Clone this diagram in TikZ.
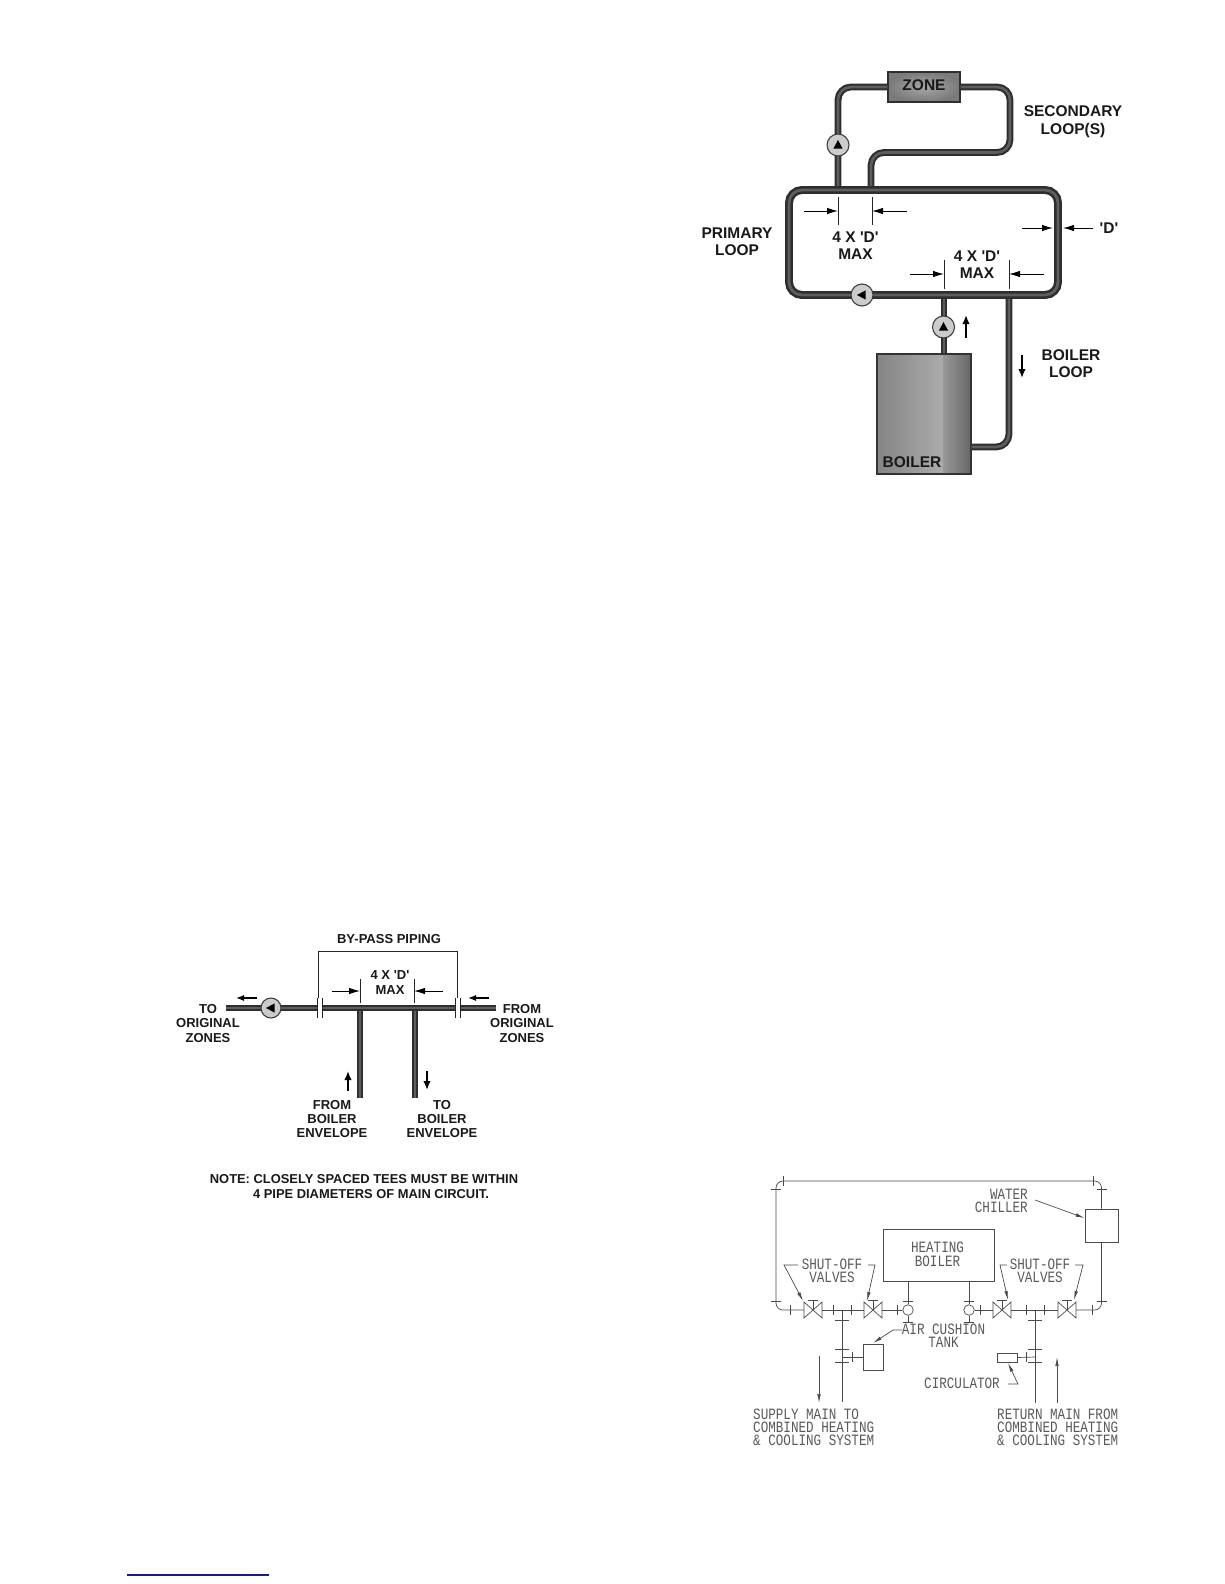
\documentclass[tikz,border=0pt]{standalone}
\usepackage{fontspec}
\usepackage{graphicx}
\setmainfont{Liberation Sans}
\newfontfamily\cadfont{Liberation Mono}
\usetikzlibrary{arrows.meta,calc}
\definecolor{pipeD}{HTML}{2E2E2E}
\definecolor{pipeL}{HTML}{5E5E5E}
\definecolor{cadc}{HTML}{4A4A4A}
\definecolor{cadt}{HTML}{5A5A5A}
\definecolor{rulec}{HTML}{1A1A8C}
\newcommand{\cadlines}[2][c]{\scalebox{1}[1.25]{\begin{tabular}[c]{@{}#1@{}}#2\end{tabular}}}
\newcommand{\Dq}{\textquotesingle D\textquotesingle}
\tikzset{
  pipe/.style={draw=pipeD,line width=2.6,double=pipeL,double distance=2.8},
  thinpipe/.style={draw=pipeD,line width=2.1,double=pipeL,double distance=2.6},
  lab/.style={font=\bfseries\fontsize{15.5bp}{17bp}\selectfont,align=center,inner sep=0pt,text=black!90},
  labs/.style={font=\bfseries\fontsize{13bp}{14.4bp}\selectfont,align=center,inner sep=0pt,text=black!90},
  thinl/.style={draw=black!85,line width=0.9},
  dimarr/.style={draw=black,line width=1,-{Latex[length=11bp,width=6.5bp]}},
  flow/.style={draw=black,line width=1.7,-{Latex[length=9bp,width=7.5bp]}},
  flowh/.style={draw=black,line width=1.2,-{Latex[length=8bp,width=6bp]}},
  pumpc/.style={circle,draw=black!75,line width=1.1,fill=black!20,minimum size=#1,inner sep=0pt},
  pics/pump/.style={code={
    \node[pumpc=#1] (-c) at (0,0) {};
    \fill[black] (0,-5) -- (4.6,3.6) -- (-4.6,3.6) -- cycle;}},
  cad/.style={draw=cadc,line width=0.7},
  cadarr/.style={draw=cadc,line width=0.7,-{Latex[length=9bp,width=3.5bp]}},
  cadbox/.style={draw=cadc,line width=0.8,inner sep=0pt,fill=white},
  cadtxt/.style={font=\cadfont\fontsize{12.6bp}{10.3bp}\selectfont,inner sep=0pt,text=cadt},
  pics/cadvalve/.style={code={
    \draw[cad] (-9,-8) -- (9,8) -- (9,-8) -- (-9,8) -- cycle;
    \draw[cad] (0,0) -- (0,-10) (-5,-10) -- (5,-10);}},
}
\begin{document}
\begin{tikzpicture}[x=1bp,y=-1bp]
\useasboundingbox (0,0) rectangle (1224,1584);
\fill[white] (0,0) rectangle (1224,1584);

%% ---------- primary / secondary diagram ----------
\coordinate (secL) at (838,190);
\coordinate (secR) at (871,190);
\coordinate (blrL) at (944,295);
\coordinate (blrR) at (1009,295);
\node[draw=pipeD,line width=1.2,minimum width=72bp,minimum height=30bp,inner sep=0pt,
      inner color=black!35,outer color=black!52] (zone) at (924,87) {};
\node[draw=black!80,line width=1.2,minimum width=94bp,minimum height=120bp,inner sep=0pt] (boiler) at (924,414) {};
\shade[left color=black!48,right color=black!33] (877,354) rectangle (943,474);
\shade[left color=black!40,right color=black!60] (943,354) rectangle (971,474);
\node[draw=black!80,line width=1.2,minimum width=94bp,minimum height=120bp,inner sep=0pt] at (924,414) {};
\draw[thinpipe,rounded corners=13] (secL) -- (838,87) -- (zone.west);
\draw[thinpipe,rounded corners=13] (zone.east) -- (1010,87) -- (1010,152.5) -- (871,152.5) -- (secR);
\draw[thinpipe] (blrL) -- (boiler.north -| blrL);
\draw[thinpipe,rounded corners=13] (blrR) -- (1009,447) -- (boiler.east |- 0,447);
\draw[pipe,rounded corners=13] (789,190) rectangle (1058,295);
\pic at (838,145) {pump=22bp};
\pic[rotate=90] at (862,295) {pump=22bp};
\pic at (943.5,327) {pump=22bp};
\node[lab] (zonet) at (924,85.5) {ZONE};
\node[lab] (boilert) at (912,462) {BOILER};
\node[lab,font=\bfseries\fontsize{15.5bp}{17.7bp}\selectfont] (seclab) at (1073,122) {SECONDARY\\LOOP(S)};
\node[lab] (primlab) at (737,241.5) {PRIMARY\\LOOP};
\node[lab] (boillab) at (1071,363.5) {BOILER\\LOOP};
\node[lab] (d1) at (855.5,245.5) {4 X \Dq\\MAX};
\node[lab] (d2) at (977,265) {4 X \Dq\\MAX};
\node[lab] (dd) at (1109,228) {\Dq};
\draw[thinl] (838,197) -- (838,225) coordinate (t1);
\draw[thinl] (872,197) -- (872,225) coordinate (t2);
\draw[thinl] (944,260) -- (944,289) coordinate (t3);
\draw[thinl] (1009,260) -- (1009,289) coordinate (t4);
\coordinate (a1) at (804,211); \coordinate (a2) at (907,211);
\coordinate (a3) at (910,274); \coordinate (a4) at (1044,274);
\coordinate (a5) at (1022,228); \coordinate (a6) at (1093,228);
\draw[dimarr] (a1) -- (838,211);
\draw[dimarr] (a2) -- (872,211);
\draw[dimarr] (a3) -- (944,274);
\draw[dimarr] (a4) -- (1009,274);
\draw[dimarr] (a5) -- (1053,228);
\draw[dimarr] (a6) -- (1063,228);
\draw[flow] (966,338) -- (966,315);
\draw[flow] (1022,355) -- (1022,378);

%% ---------- by-pass diagram ----------
\coordinate (t360) at (360,1008);
\coordinate (t415) at (415,1008);
\draw[thinpipe] (t360) -- (360,1098);
\draw[thinpipe] (t415) -- (415,1098);
\draw[thinpipe] (226,1008) -- (317,1008);
\draw[thinpipe] (322,1008) -- (455,1008);
\draw[thinpipe] (460,1008) -- (496,1008);
\draw[thinl] (317,998) -- (317,1018) (322,998) -- (322,1018);
\draw[thinl] (455,998) -- (455,1018) (460,998) -- (460,1018);
\draw[thinl] (318,998) -- (318,951) -- (457,951) -- (457,998);
\pic[rotate=90] at (271,1008) {pump=20bp};
\draw[thinl] (360,979) -- (360,1003);
\draw[thinl] (414,979) -- (414,1003);
\draw[dimarr] (332,991) -- (360,991);
\draw[dimarr] (443,991) -- (414,991);
\draw[flowh] (257,998) -- (236,998);
\draw[flowh] (489,998) -- (468,998);
\draw[flow] (348,1091) -- (348,1071);
\draw[flow] (427,1071) -- (427,1090);
\node[labs] (bp) at (389,939) {BY-PASS PIPING};
\node[labs] (bd) at (390,982.5) {4 X \Dq\\MAX};
\node[labs] (toz) at (208,1023.5) {TO\\ORIGINAL\\ZONES};
\node[labs] (fromz) at (522,1023.5) {FROM\\ORIGINAL\\ZONES};
\node[labs] (fromb) at (332,1119) {FROM\\BOILER\\ENVELOPE};
\node[labs] (tob) at (442,1119) {TO\\BOILER\\ENVELOPE};
\node[labs,font=\bfseries\fontsize{12.9bp}{15bp}\selectfont] (note) at (364,1186.5) {NOTE: CLOSELY SPACED TEES MUST BE WITHIN\\\hspace*{14bp}4 PIPE DIAMETERS OF MAIN CIRCUIT.};

%% ---------- CAD diagram ----------
\node[cadbox,minimum width=33bp,minimum height=33bp] (chiller) at (1101.5,1225.5) {};
\node[cadbox,minimum width=111bp,minimum height=52bp] (hboiler) at (938.5,1255) {};
\node[cadbox,minimum width=20bp,minimum height=26bp] (tank) at (873,1357) {};
\node[cadbox,minimum width=20bp,minimum height=9bp] (circ) at (1007,1357.5) {};
\pic (v1) at (813,1310) {cadvalve};
\pic (v2) at (873,1310) {cadvalve};
\pic (v3) at (1002,1310) {cadvalve};
\pic (v4) at (1067,1310) {cadvalve};
\node[circle,draw=cadc,line width=0.7,minimum size=10.5bp,inner sep=0pt] (c1) at (908,1310) {};
\node[circle,draw=cadc,line width=0.7,minimum size=10.5bp,inner sep=0pt] (c2) at (969,1310) {};
\draw[cad,rounded corners=7] (804,1310) -- (776,1310) -- (776,1181) -- (1101.5,1181) -- (chiller.north);
\draw[cad,rounded corners=7] (chiller.south) -- (1101.5,1310) -- (1076,1310);
\draw[cad] (822,1310) -- (864,1310);
\draw[cad] (882,1310) -- (c1.west);
\draw[cad] (c2.east) -- (993,1310);
\draw[cad] (1011,1310) -- (1058,1310);
\draw[cad] (c1.north) -- (hboiler.south -| c1.north);
\draw[cad] (c2.north) -- (hboiler.south -| c2.north);
\draw[cad] (c1.south) -- (908,1322);
\draw[cad] (c2.south) -- (969,1322);
\coordinate (sup) at (842,1402);
\coordinate (ret) at (1035,1403);
\draw[cad] (842,1310) -- (sup);
\draw[cad] (1035,1310) -- (ret);
\draw[cad] (842,1357) -- (tank.west);
\draw[cad] (1035,1357) -- (circ.east);
%% pipe-joint ticks
\foreach \x in {790,833,851,897,980,1026,1044,1092}
  \draw[cad] (\x,1305) -- (\x,1315);
\foreach \x in {783,1093}
  \draw[cad] (\x,1176) -- (\x,1186);
\foreach \y in {1189,1301}
  \draw[cad] (771,\y) -- (781,\y) (1096.5,\y) -- (1106.5,\y);
\foreach \x in {842,1035}
  \foreach \y in {1320,1349,1362}
    \draw[cad] (\x-7,\y) -- (\x+7,\y);
\draw[cad] (903,1301) -- (913,1301) (964,1301) -- (974,1301);
\draw[cad] (903,1322) -- (913,1322) (964,1322) -- (974,1322);
\draw[cad] (852,1352) -- (852,1362) (1026,1352) -- (1026,1362);
%% labels
\node[cadtxt] (hbt) at (937.5,1256) {\cadlines{HEATING\\BOILER}};
\node[cadtxt,anchor=east] (wct) at (1028,1203) {\cadlines[r]{WATER\\[-1.1bp]CHILLER}};
\node[cadtxt] (sv1) at (832,1272.5) {\cadlines{SHUT-OFF\\[-1.1bp]VALVES}};
\node[cadtxt] (sv2) at (1040,1272.5) {\cadlines{SHUT-OFF\\[-1.1bp]VALVES}};
\node[cadtxt] (act) at (943.5,1337.5) {\cadlines{AIR CUSHION\\[-1.1bp]TANK}};
\node[cadtxt] (cirt) at (962,1385) {\cadlines{CIRCULATOR}};
\node[cadtxt,anchor=west] (supt) at (753,1429.5) {\cadlines[l]{SUPPLY MAIN TO\\[-1.1bp]COMBINED HEATING\\[-1.1bp]\& COOLING SYSTEM}};
\node[cadtxt,anchor=west] (rett) at (997,1429) {\cadlines[l]{RETURN MAIN FROM\\[-1.1bp]COMBINED HEATING\\[-1.1bp]\& COOLING SYSTEM}};
%% leaders
\draw[cadarr] (1035,1200) -- (chiller.west |- 0,1218);
\draw[cadarr] (798,1265) -- (784,1265) -- (803,1301);
\draw[cadarr] (868,1265) -- (875,1265) -- (867,1301);
\draw[cadarr] (1007,1265) -- (1000,1265) -- (1008,1300);
\draw[cadarr] (1075,1265) -- (1083,1265) -- (1074,1300);
\draw[cadarr] (902,1330) -- (893,1330) -- (873,1343);
\draw[cadarr] (1008,1384) -- (1018,1384) -- (1008,1363);
\draw[cadarr] (819,1356) -- (819,1403);
\draw[cadarr] (1057,1403) -- (1057,1357);

%% ---------- footnote rule ----------
\draw[rulec,line width=1.4] (127,1575) -- (269,1575);
\end{tikzpicture}
\end{document}
